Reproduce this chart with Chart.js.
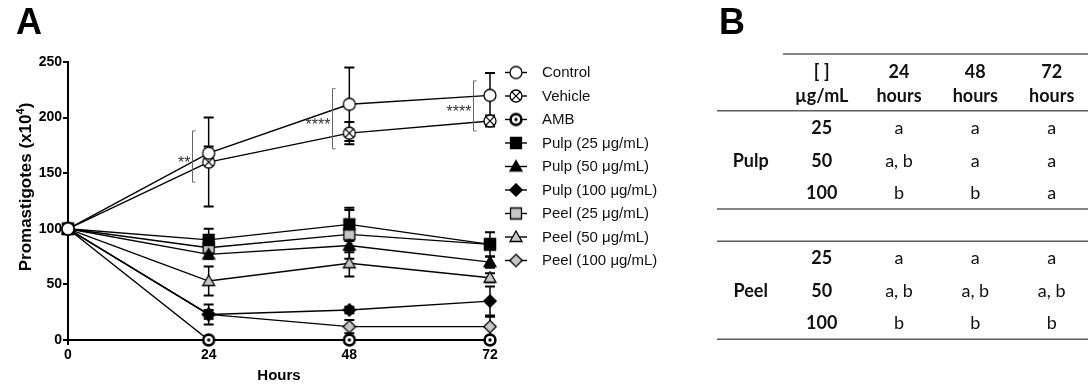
<!DOCTYPE html>
<html>
<head>
<meta charset="utf-8">
<script src="https://cdn.jsdelivr.net/npm/chart.js@4.4.1/dist/chart.umd.min.js"></script>
<style>
  html, body { margin: 0; padding: 0; background: #fff; overflow: hidden; }
  #wrap { position: relative; width: 1088px; height: 387px; }
</style>
</head>
<body>
<div id="wrap"><canvas id="c" width="1088" height="387"></canvas></div>
<script>
// ---- Panel A: promastigote counts (x10^4) over time ----
const hours = [0, 24, 48, 72];
const seriesNames = ['Control', 'Vehicle', 'AMB',
  'Pulp (25 μg/mL)', 'Pulp (50 μg/mL)', 'Pulp (100 μg/mL)',
  'Peel (25 μg/mL)', 'Peel (50 μg/mL)', 'Peel (100 μg/mL)'];

const control    = [100, 168, 212, 220];
const vehicle    = [100, 160, 186, 197];
const amb        = [100, 0, 0, 0];
const pulp25     = [100, 90, 104, 86];
const pulp50     = [100, 77, 85, 70];
const pulp100    = [100, 23, 27, 35];
const peel25     = [100, 83, 95, 86];
const peel50     = [100, 53, 69, 56];
const peel100    = [100, 23, 12, 12];

const controlSem = [0, 6, 33, 20];
const vehicleSem = [0, 40, 10, 5];
const ambSem     = [0, 0, 0, 0];
const pulp25Sem  = [0, 10, 15, 11];
const pulp50Sem  = [0, 4, 6, 5];
const pulp100Sem = [0, 9, 3, 13];
const peel25Sem  = [0, 5, 22, 3];
const peel50Sem  = [0, 13, 12, 4];
const peel100Sem = [0, 4, 6, 9];

const yTicks = [0, 50, 100, 150, 200, 250];

// Control vs vehicle significance brackets
const sigHours = [24, 48, 72];
const sigLow   = [142, 172, 188];
const sigHigh  = [188, 226, 233];
const sigMarks = ['**', '****', '****'];

// ---- Panel B: statistical grouping letters ----
const tableHeadTop    = ['[ ]', '24', '48', '72'];
const tableHeadBottom = ['µg/mL', 'hours', 'hours', 'hours'];
const tableGroups = ['Pulp', 'Peel'];
const tableConc = ['25', '50', '100'];
const pulpLetters = [['a', 'a', 'a'], ['a, b', 'a', 'a'], ['b', 'b', 'a']];
const peelLetters = [['a', 'a', 'a'], ['a, b', 'a, b', 'a, b'], ['b', 'b', 'b']];

// ---- marker glyphs ----
const PEEL_GREY = '#c6c6c6';
function makeMarker(kind, fill) {
  const s = 18, c = document.createElement('canvas');
  c.width = s; c.height = s;
  const g = c.getContext('2d');
  const m = s / 2;
  g.strokeStyle = '#000';
  g.lineWidth = 1.3;
  g.lineJoin = 'miter';
  g.fillStyle = fill;
  g.beginPath();
  if (kind === 'circle' || kind === 'circleX') {
    g.arc(m, m, 6, 0, Math.PI * 2);
    g.fill(); g.stroke();
    if (kind === 'circleX') {
      const d = 4.1;
      g.beginPath();
      g.moveTo(m - d, m - d); g.lineTo(m + d, m + d);
      g.moveTo(m + d, m - d); g.lineTo(m - d, m + d);
      g.stroke();
    }
  } else if (kind === 'circleDot') {
    g.lineWidth = 2.6;
    g.arc(m, m, 5.4, 0, Math.PI * 2);
    g.fill(); g.stroke();
    g.beginPath();
    g.fillStyle = '#000';
    g.arc(m, m, 1.7, 0, Math.PI * 2);
    g.fill();
  } else if (kind === 'square') {
    g.rect(m - 5.5, m - 5.5, 11, 11);
    g.fill(); g.stroke();
  } else if (kind === 'triangle') {
    g.moveTo(m, m - 6); g.lineTo(m + 6, m + 4.5); g.lineTo(m - 6, m + 4.5); g.closePath();
    g.fill(); g.stroke();
  } else if (kind === 'diamond') {
    g.moveTo(m, m - 6.2); g.lineTo(m + 6.2, m); g.lineTo(m, m + 6.2); g.lineTo(m - 6.2, m); g.closePath();
    g.fill(); g.stroke();
  }
  return c;
}

const seriesValues = [control, vehicle, amb, pulp25, pulp50, pulp100, peel25, peel50, peel100];
const seriesSem = [controlSem, vehicleSem, ambSem, pulp25Sem, pulp50Sem, pulp100Sem, peel25Sem, peel50Sem, peel100Sem];
const seriesMarkers = [
  makeMarker('circle', '#fff'), makeMarker('circleX', '#fff'), makeMarker('circleDot', '#fff'),
  makeMarker('square', '#000'), makeMarker('triangle', '#000'), makeMarker('diamond', '#000'),
  makeMarker('square', PEEL_GREY), makeMarker('triangle', PEEL_GREY), makeMarker('diamond', PEEL_GREY)
];

const datasets = seriesNames.map((name, i) => ({
  label: name,
  data: hours.map((h, j) => ({ x: h, y: seriesValues[i][j] })),
  sem: seriesSem[i],
  borderColor: '#000',
  backgroundColor: '#000',
  borderWidth: 1.4,
  pointStyle: seriesMarkers[i],
  pointRadius: 6,
  tension: 0,
  clip: false
}));

const FONT = "'Liberation Sans', Arial, sans-serif";
const TABLE_FONT = "Lato, 'Open Sans', sans-serif";
Chart.defaults.font.family = FONT;
Chart.defaults.color = '#000';

// SEM error bars, drawn underneath lines and markers
const errorBars = {
  id: 'errorBars',
  beforeDatasetsDraw(chart) {
    const { ctx, scales: { x, y } } = chart;
    ctx.save();
    ctx.strokeStyle = '#000';
    chart.data.datasets.forEach(ds => {
      ds.data.forEach((p, j) => {
        const e = ds.sem[j];
        if (!e) return;
        const px = x.getPixelForValue(p.x);
        const top = y.getPixelForValue(p.y + e);
        const bot = y.getPixelForValue(p.y - e);
        ctx.lineWidth = 1.5;
        ctx.beginPath();
        ctx.moveTo(px, top); ctx.lineTo(px, bot);
        ctx.stroke();
        ctx.lineWidth = 2;
        ctx.beginPath();
        ctx.moveTo(px - 5, top); ctx.lineTo(px + 5, top);
        ctx.moveTo(px - 5, bot); ctx.lineTo(px + 5, bot);
        ctx.stroke();
      });
    });
    ctx.restore();
  }
};

// significance brackets, y-axis title, legend, panel letters and the table
const decorations = {
  id: 'decorations',
  afterDatasetsDraw(chart) {
    const { ctx, scales: { x, y } } = chart;
    ctx.save();
    // brackets
    sigHours.forEach((h, i) => {
      const bx = Math.round(x.getPixelForValue(h) - 17) + 0.5;
      const t = y.getPixelForValue(sigHigh[i]);
      const b = y.getPixelForValue(sigLow[i]);
      ctx.strokeStyle = '#666';
      ctx.lineWidth = 1;
      ctx.beginPath();
      ctx.moveTo(bx + 3, t); ctx.lineTo(bx, t); ctx.lineTo(bx, b); ctx.lineTo(bx + 3, b);
      ctx.stroke();
      ctx.fillStyle = '#333';
      ctx.font = '16px ' + FONT;
      ctx.textAlign = 'right';
      ctx.textBaseline = 'middle';
      ctx.fillText(sigMarks[i], bx - 2, (t + b) / 2 + 7);
    });
    ctx.restore();
  },
  afterDraw(chart) {
    const { ctx } = chart;
    ctx.save();
    ctx.fillStyle = '#000';

    // panel letters
    ctx.font = 'bold 36px ' + FONT;
    ctx.textAlign = 'left';
    ctx.textBaseline = 'alphabetic';
    ctx.fillText('A', 16, 34);
    ctx.fillText('B', 719, 34);

    // y-axis title with superscript exponent
    ctx.save();
    ctx.translate(25, 187);
    ctx.rotate(-Math.PI / 2);
    const main = 'Promastigotes (x10', sup = '4', close = ')';
    ctx.font = 'bold 17px ' + FONT;
    const w1 = ctx.measureText(main).width, w3 = ctx.measureText(close).width;
    ctx.font = 'bold 11px ' + FONT;
    const w2 = ctx.measureText(sup).width;
    let sx = -(w1 + w2 + w3) / 2;
    ctx.textAlign = 'left';
    ctx.textBaseline = 'alphabetic';
    ctx.font = 'bold 17px ' + FONT;
    ctx.fillText(main, sx, 6); sx += w1;
    ctx.font = 'bold 11px ' + FONT;
    ctx.fillText(sup, sx, -1); sx += w2;
    ctx.font = 'bold 17px ' + FONT;
    ctx.fillText(close, sx, 6);
    ctx.restore();

    // legend
    chart.data.datasets.forEach((ds, i) => {
      const ly = 72.5 + i * 23.5;
      ctx.strokeStyle = '#000';
      ctx.lineWidth = 1.4;
      ctx.beginPath();
      ctx.moveTo(505, ly); ctx.lineTo(527, ly);
      ctx.stroke();
      const img = ds.pointStyle;
      ctx.drawImage(img, 516 - img.width / 2, ly - img.height / 2);
      ctx.fillStyle = '#111';
      ctx.font = '15px ' + FONT;
      ctx.textAlign = 'left';
      ctx.textBaseline = 'middle';
      ctx.fillText(ds.label, 542, ly + 0.5);
    });

    // table rules
    ctx.strokeStyle = '#5c5c5c';
    ctx.lineWidth = 1.5;
    [[54, 783], [110.7, 717], [209, 717], [241.3, 717], [339.3, 717]].forEach(([ry, x0]) => {
      ctx.beginPath();
      ctx.moveTo(x0, ry); ctx.lineTo(1088, ry);
      ctx.stroke();
    });

    const colX = [821.7, 899, 975.3, 1051.7];
    const groupX = 750.7;
    ctx.fillStyle = '#111';
    ctx.textAlign = 'center';
    ctx.textBaseline = 'middle';
    ctx.font = 'bold 18px ' + TABLE_FONT;
    tableHeadTop.forEach((t, i) => ctx.fillText(t, colX[i], 72));
    tableHeadBottom.forEach((t, i) => ctx.fillText(t, colX[i], 96));

    const rowY = [[128.3, 160.7, 193.3], [258.3, 291, 323.3]];
    const letters = [pulpLetters, peelLetters];
    tableGroups.forEach((g, gi) => {
      ctx.font = 'bold 18px ' + TABLE_FONT;
      ctx.fillText(g, groupX, rowY[gi][1]);
      tableConc.forEach((c, ri) => {
        ctx.font = 'bold 18px ' + TABLE_FONT;
        ctx.fillText(c, colX[0], rowY[gi][ri]);
        ctx.font = '18px ' + TABLE_FONT;
        letters[gi][ri].forEach((l, ci) => ctx.fillText(l, colX[ci + 1], rowY[gi][ri]));
      });
    });
    ctx.restore();
  }
};

new Chart(document.getElementById('c'), {
  type: 'line',
  data: { datasets },
  options: {
    responsive: false,
    animation: false,
    events: [],
    layout: { padding: { left: 0, top: 62, right: 598, bottom: 0 } },
    plugins: { legend: { display: false }, tooltip: { enabled: false } },
    scales: {
      x: {
        type: 'linear', min: 0, max: 72,
        afterBuildTicks: s => { s.ticks = hours.map(v => ({ value: v })); },
        ticks: { color: '#000', font: { weight: 'bold', size: 14 }, padding: 2, maxRotation: 0, autoSkip: false },
        grid: { drawOnChartArea: false, drawTicks: true, tickLength: 5, color: '#000', lineWidth: 2 },
        border: { display: true, color: '#000', width: 2 },
        title: { display: true, text: 'Hours', color: '#000', font: { weight: 'bold', size: 15 }, padding: { top: 0, bottom: 2 } },
        afterFit: s => { s.height = 47; }
      },
      y: {
        type: 'linear', min: 0, max: 250,
        afterBuildTicks: s => { s.ticks = yTicks.map(v => ({ value: v })); },
        ticks: { color: '#000', font: { weight: 'bold', size: 14 }, padding: 1 },
        grid: { drawOnChartArea: false, drawTicks: true, tickLength: 5, color: '#000', lineWidth: 2 },
        border: { display: true, color: '#000', width: 2 },
        afterFit: s => { s.width = 68; }
      }
    }
  },
  plugins: [errorBars, decorations]
});
</script>
</body>
</html>
